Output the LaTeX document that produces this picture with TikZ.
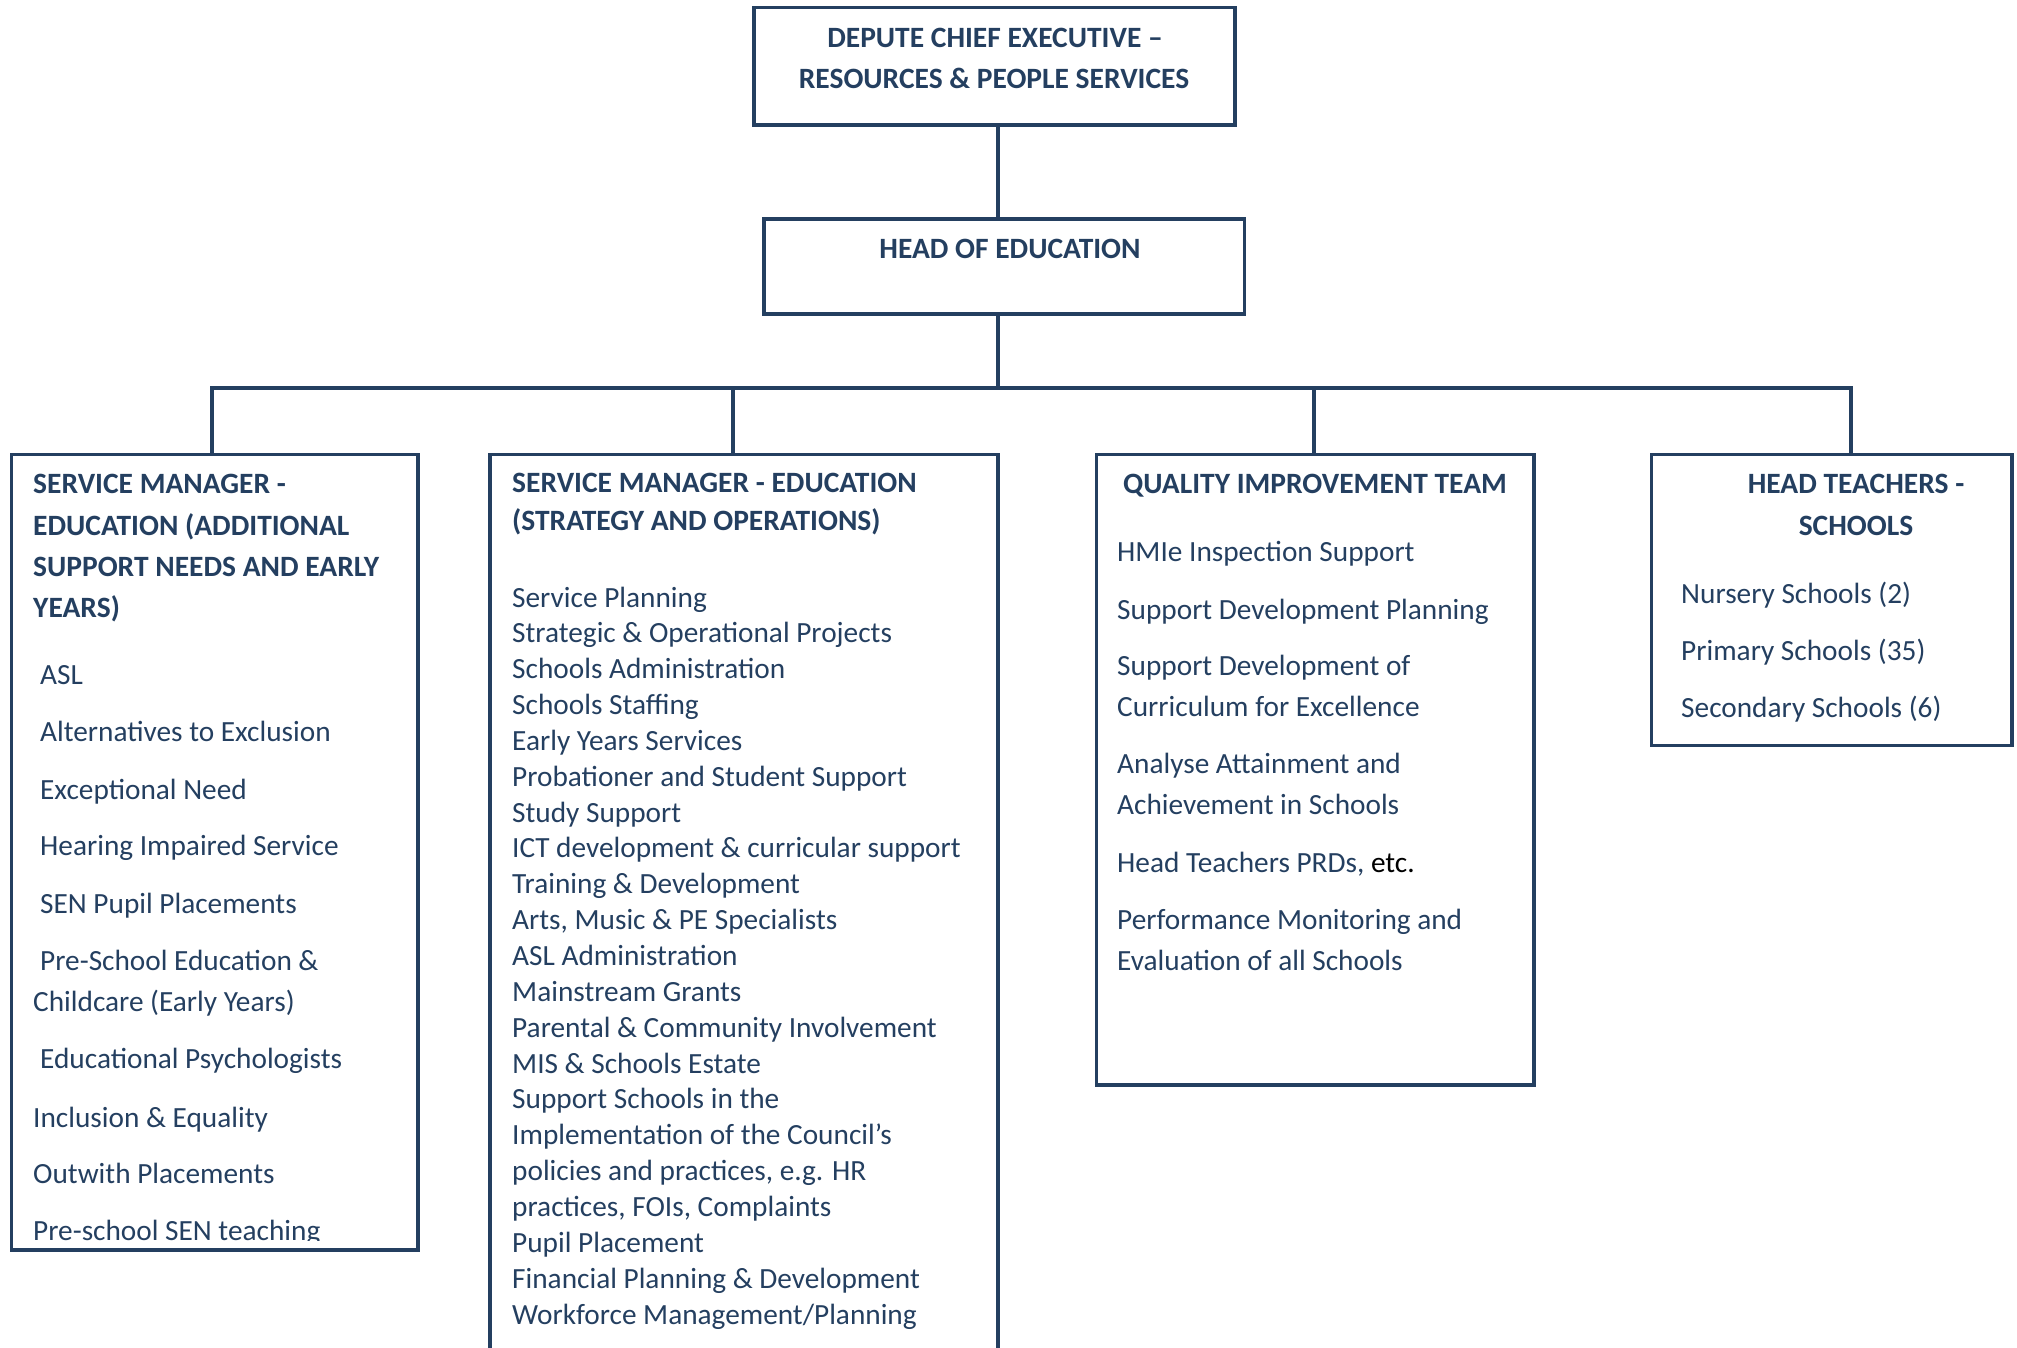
\documentclass[tikz,border=0pt]{standalone}
\usepackage{fontspec}
\setmainfont{Carlito}
\definecolor{navy}{HTML}{243F60}
\begin{document}
\begin{tikzpicture}[x=1pt,y=-1pt,
  frame/.style={draw=navy,line width=3.3pt,inner sep=0pt,outer sep=0pt,rectangle,anchor=north west},
  link/.style={draw=navy,line width=3.3pt},
  hd/.style={font=\fontsize{29.5}{34}\selectfont\bfseries,text=navy,inner sep=0pt,anchor=base west},
  hdc/.style={hd,anchor=base},
  it/.style={font=\fontsize{29.3}{34}\selectfont,text=navy,inner sep=0pt,anchor=base west}]
\useasboundingbox (0,0) rectangle (2017,1347);
\clip (0,0) rectangle (2017,1347);

% boxes
\node[frame,minimum width=481pt,minimum height=117.5pt] (dce) at (754,7.5) {};
\node[frame,minimum width=480.5pt,minimum height=95pt] (hoe) at (764,219) {};
\node[frame,minimum width=406.3pt,minimum height=795.7pt] (sm1) at (11.7,454.3) {};
\node[frame,minimum width=508pt,minimum height=1000pt] (sm2) at (490,454.3) {};
\node[frame,minimum width=437.5pt,minimum height=630.7pt] (qit) at (1096.5,454.3) {};
\node[frame,minimum width=360.3pt,minimum height=291.2pt] (hts) at (1651.7,454.3) {};

% connectors
\coordinate (bus) at (998,388);
\coordinate (t1) at (212,388);
\coordinate (t2) at (733,388);
\coordinate (t3) at (1314,388);
\coordinate (t4) at (1851,388);
\draw[link] (bus |- dce.south) -- (bus |- hoe.north);
\draw[link] (bus |- hoe.south) -- (bus);
\draw[link] (t1 |- sm1.north) -- (t1) -- (t4) -- (t4 |- hts.north);
\draw[link] (t2) -- (t2 |- sm2.north);
\draw[link] (t3) -- (t3 |- qit.north);

% top boxes
\node[hdc] (dce1) at (995,47) {DEPUTE CHIEF EXECUTIVE –};
\node[hdc] (dce2) at (994,88) {RESOURCES \& PEOPLE SERVICES};
\node[hdc] (hoe1) at (1010,258) {HEAD OF EDUCATION};

% service manager: additional support needs and early years
\node[hd] (s1h1) at (33,493) {SERVICE MANAGER -};
\node[hd] (s1h2) at (33,535) {EDUCATION (ADDITIONAL};
\node[hd] (s1h3) at (33,576) {SUPPORT NEEDS AND EARLY};
\node[hd] (s1h4) at (33,617) {YEARS)};
\begin{scope}
\clip (11.7,454.3) rectangle (418,1240);
\node[it] (s1a) at (40,684) {ASL};
\node[it] (s1b) at (40,741) {Alternatives to Exclusion};
\node[it] (s1c) at (40,799) {Exceptional Need};
\node[it] (s1d) at (40,855) {Hearing Impaired Service};
\node[it] (s1e) at (40,913) {SEN Pupil Placements};
\node[it] (s1f) at (40,970) {Pre-School Education \&};
\node[it] (s1g) at (33,1011) {Childcare (Early Years)};
\node[it] (s1h) at (40,1068) {Educational Psychologists};
\node[it] (s1i) at (33,1127) {Inclusion \& Equality};
\node[it] (s1j) at (33,1183) {Outwith Placements};
\node[it] (s1k) at (33,1240) {Pre-school SEN teaching};
\end{scope}

% service manager: strategy and operations
\node[hd] (s2h1) at (512,492) {SERVICE MANAGER - EDUCATION};
\node[hd] (s2h2) at (512,530) {(STRATEGY AND OPERATIONS)};
\foreach \t [count=\i from 0] in {
  {Service Planning},
  {Strategic \& Operational Projects},
  {Schools Administration},
  {Schools Staffing},
  {Early Years Services},
  {Probationer and Student Support},
  {Study Support},
  {ICT development \& curricular support},
  {Training \& Development},
  {Arts, Music \& PE Specialists},
  {ASL Administration},
  {Mainstream Grants},
  {Parental \& Community Involvement},
  {MIS \& Schools Estate},
  {Support Schools in the},
  {Implementation of the Council's},
  {policies and practices, e.g. HR},
  {practices, FOIs, Complaints},
  {Pupil Placement},
  {Financial Planning \& Development},
  {Workforce Management/Planning}}
  \node[it] (s2l\i) at (512,607+35.85*\i) {\t};

% quality improvement team
\node[hd] (q0) at (1123,493) {QUALITY IMPROVEMENT TEAM};
\node[it] (q1) at (1117,561) {HMIe Inspection Support};
\node[it] (q2) at (1117,619) {Support Development Planning};
\node[it] (q3) at (1117,675) {Support Development of};
\node[it] (q4) at (1117,716) {Curriculum for Excellence};
\node[it] (q5) at (1117,773) {Analyse Attainment and};
\node[it] (q6) at (1117,814) {Achievement in Schools};
\node[it] (q7) at (1117,872) {Head Teachers PRDs, \textcolor{black}{etc.}};
\node[it] (q8) at (1117,929) {Performance Monitoring and};
\node[it] (q9) at (1117,970) {Evaluation of all Schools};

% head teachers
\node[hdc] (h1) at (1856,493) {HEAD TEACHERS -};
\node[hdc] (h2) at (1856,535) {SCHOOLS};
\node[it] (h3) at (1681,603) {Nursery Schools (2)};
\node[it] (h4) at (1681,660) {Primary Schools (35)};
\node[it] (h5) at (1681,717) {Secondary Schools (6)};
\end{tikzpicture}
\end{document}
